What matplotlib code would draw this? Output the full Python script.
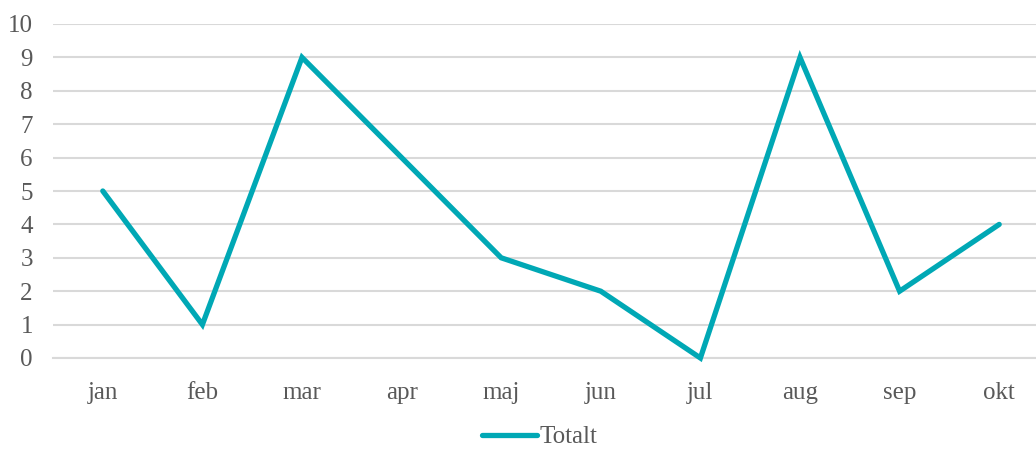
import matplotlib.pyplot as plt

months = ["jan", "feb", "mar", "apr", "maj", "jun", "jul", "aug", "sep", "okt"]
totalt = [5, 1, 9, 6, 3, 2, 0, 9, 2, 4]
yticks = list(range(0, 11))

plt.rcParams['font.family'] = ['Liberation Serif', 'DejaVu Serif']
text_color = "#595959"
line_color = "#00A8B5"

fig = plt.figure(figsize=(10.36, 4.49), dpi=100)
ax = fig.add_axes([53 / 1036, 91 / 449, 996 / 1036, 334 / 449])

x = list(range(len(months)))
ax.plot(x, totalt, color=line_color, linewidth=3.8, solid_joinstyle="miter",
        solid_capstyle="round", label="Totalt", zorder=3, clip_on=False)

ax.set_xlim(-0.5, len(months) - 0.5)
ax.set_ylim(0, 10)
ax.set_yticks(yticks)
ax.set_xticks(x)
ax.set_xticklabels(months)
ax.yaxis.grid(True, color="#D9D9D9", linewidth=1.5)
ax.set_axisbelow(True)
ax.tick_params(axis="both", length=0, labelsize=18, labelcolor=text_color)
ax.tick_params(axis="x", pad=17)
ax.tick_params(axis="y", pad=14.5)
for s in ax.spines.values():
    s.set_visible(False)
ax.spines["bottom"].set_visible(True)
ax.spines["bottom"].set_color("#D9D9D9")
ax.spines["bottom"].set_linewidth(1.5)

fig.legend(loc="center", bbox_to_anchor=(0.521, 1 - 437 / 449), frameon=False,
           fontsize=18, labelcolor=text_color, handlelength=2.2, handletextpad=0.1)

fig.savefig("out.png", dpi=100)
